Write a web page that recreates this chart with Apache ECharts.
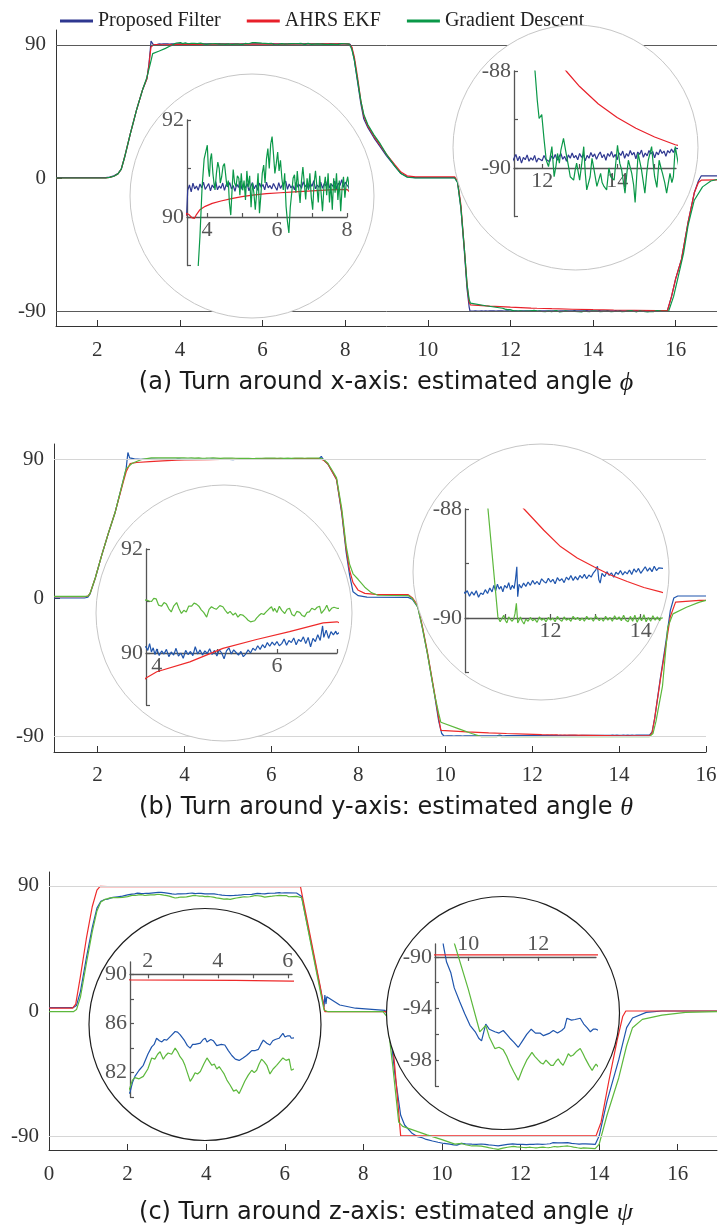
<!DOCTYPE html>
<html>
<head>
<meta charset="utf-8">
<script src="https://cdn.jsdelivr.net/npm/echarts@6.0.0/dist/echarts.min.js"></script>
<style>
html, body { margin: 0; padding: 0; background: #fff; }
#chart { width: 718px; height: 1227px; }
</style>
</head>
<body>
<div id="chart"></div>
<script>
// ---------- series names ----------
const seriesNames = ['Proposed Filter', 'AHRS EKF', 'Gradient Descent'];

// ---------- (a) rotation about x: roll angle phi [deg] vs time [s] ----------
const phiProposed = [
  [1,0.3],[2.2,0.3],[2.3,0.6],[2.4,1.5],[2.5,3],[2.58,6],[2.66,14],[2.8,30],[2.95,46],[3.1,60],[3.2,67],[3.25,77],[3.28,86],[3.3,92.5],[3.36,90.0],[3.42,90.05],[3.45,90.55],
  [3.5,90.66],[3.55,90.52],[3.6,90.7],[3.65,90.58],[3.7,90.64],[3.75,90.55],[3.8,90.68],[3.85,90.6],[3.9,90.72],[3.95,90.57],
  [4,90.63],[4.05,90.69],[4.1,90.54],[4.15,90.66],[4.2,90.6],[4.25,90.73],[4.3,90.56],[4.35,90.64],[4.4,90.59],[4.45,90.7],
  [4.5,90.55],[4.55,90.67],[4.6,90.62],[4.65,90.71],[4.7,90.58],[4.75,90.65],[4.8,90.53],[4.85,90.68],[4.9,90.61],[4.95,90.74],
  [5,90.57],[5.05,90.66],[5.1,90.6],[5.15,90.69],[5.2,90.54],[5.25,90.63],[5.3,90.71],[5.35,90.58],[5.4,90.66],[5.45,90.55],
  [5.5,90.7],[5.55,90.61],[5.6,90.67],[5.65,90.56],[5.7,90.72],[5.75,90.6],[5.8,90.65],[5.85,90.58],[5.9,90.69],[5.95,90.62],
  [6,90.55],[6.05,90.71],[6.1,90.59],[6.15,90.66],[6.2,90.62],[6.25,90.74],[6.3,90.57],[6.35,90.68],[6.4,90.6],[6.45,90.65],
  [6.5,90.56],[6.55,90.72],[6.6,90.61],[6.65,90.67],[6.7,90.59],[6.75,90.73],[6.8,90.62],[6.85,90.68],[6.9,90.57],[6.95,90.7],
  [7,90.63],[7.05,90.75],[7.1,90.58],[7.15,90.66],[7.2,90.61],[7.25,90.72],[7.3,90.59],[7.35,90.69],[7.4,90.64],[7.45,90.76],
  [7.5,90.6],[7.55,90.68],[7.6,90.63],[7.65,90.74],[7.7,90.58],[7.75,90.7],[7.8,90.65],[7.85,90.77],[7.9,90.61],[7.95,90.72],[8,90.66],
  [8.06,90.6],[8.12,90.3],[8.16,88],[8.22,80],[8.3,65],[8.38,50],[8.45,40],[8.55,34],[8.7,27],[8.85,21],[9,15],[9.2,8],[9.35,3],[9.5,0.8],[9.7,0.3],
  [10.65,0.3],[10.72,-3],[10.8,-20],[10.88,-48],[10.95,-75],[11,-87],[11.02,-89.85],
  [11.1,-89.95],[11.15,-89.7],[11.2,-89.88],[11.25,-89.92],[11.3,-89.72],[11.35,-89.85],[11.4,-89.76],[11.45,-89.9],[11.5,-89.78],
  [11.55,-89.83],[11.6,-89.73],[11.65,-89.86],[11.7,-89.79],[11.75,-89.84],[11.8,-89.74],[11.85,-89.88],[11.9,-89.8],[11.95,-89.77],
  [12,-89.85],[12.05,-89.74],[12.1,-89.82],[12.15,-89.78],[12.2,-89.87],[12.25,-89.75],[12.3,-89.81],[12.35,-89.72],[12.4,-89.84],[12.45,-89.77],
  [12.5,-89.7],[12.55,-89.82],[12.6,-89.76],[12.65,-89.86],[12.7,-89.73],[12.75,-89.8],[12.8,-89.69],[12.85,-89.79],[12.9,-89.74],[12.95,-89.83],
  [13,-89.7],[13.05,-89.78],[13.1,-89.72],[13.15,-89.85],[13.2,-89.74],[13.25,-89.8],[13.3,-89.68],[13.35,-89.77],[13.4,-89.71],[13.45,-89.82],
  [13.5,-89.73],[13.55,-89.67],[13.6,-89.79],[13.65,-89.72],[13.7,-89.84],[13.75,-89.7],[13.8,-89.76],[13.85,-89.66],[13.9,-89.78],[13.95,-89.72],
  [14,-89.83],[14.05,-89.69],[14.1,-89.74],[14.15,-89.65],[14.2,-89.8],[14.25,-89.7],[14.3,-89.76],[14.35,-89.64],[14.4,-89.73],[14.45,-89.68],
  [14.5,-89.81],[14.55,-89.67],[14.6,-89.72],[14.65,-89.63],[14.7,-89.78],[14.75,-89.69],[14.8,-89.75],[14.85,-89.64],[14.9,-89.71],[14.95,-89.66],
  [15,-89.79],[15.05,-89.67],[15.1,-89.73],[15.15,-89.62],[15.2,-89.7],[15.25,-89.65],[15.3,-89.76],[15.35,-89.64],[15.4,-89.69],[15.45,-89.61],
  [15.5,-89.68],[15.55,-89.59],[15.6,-89.62],[15.75,-89.62],
  [15.8,-89.6],[15.9,-80],[16,-68],[16.14,-55],[16.3,-30],[16.45,-10],[16.55,-2],[16.62,1.5],[17,1.5]
];
const phiEkf = [
  [1,0],[2.2,0],[2.3,0.4],[2.4,1.2],[2.5,2.8],[2.58,6],[2.66,14],[2.8,30],[2.95,46],[3.1,60],[3.2,67],[3.25,76],[3.28,84],[3.3,88.5],
  [3.36,89.95],[3.42,90.08],[3.5,90.04],[3.58,89.98],[3.64,89.97],[3.7,90.05],[3.8,90.15],[3.95,90.22],[4.15,90.28],[4.4,90.33],[4.7,90.38],[5,90.42],
  [5.3,90.45],[5.7,90.48],[6.1,90.5],[6.5,90.52],[7,90.54],[7.5,90.56],[8,90.57],[8.1,90.5],
  [8.16,88.5],[8.22,82],[8.3,68],[8.38,52],[8.45,42],[8.55,35],[8.7,28],[8.85,22],[9,16],[9.2,9],[9.35,4],[9.5,1.5],[9.7,0.8],
  [10.65,0.8],[10.72,-2],[10.8,-18],[10.88,-46],[10.95,-72],[11,-84],[11.03,-85.7],[11.5,-86.54],[12,-87.28],[12.5,-87.86],[12.64,-88],
  [13,-88.32],[13.5,-88.68],[14,-88.96],[14.5,-89.18],[15,-89.36],[15.55,-89.52],[15.8,-89.57],
  [15.9,-80],[16,-68],[16.14,-55],[16.3,-30],[16.45,-10],[16.55,-3],[16.62,-1.5],[17,-1.2]
];
const phiGradient = [
  [1,0],[2.2,0],[2.3,0.4],[2.4,1.2],[2.5,2.8],[2.58,6],[2.66,14],[2.8,30],[2.95,46],[3.1,60],[3.2,68],[3.28,77],[3.34,84],[3.5,85.8],[3.65,87.6],
  [3.75,88.98],[3.8,89.6],[3.86,90.6],[3.92,91.2],[4.01,91.48],[4.04,91],[4.07,90.83],[4.1,91.2],[4.13,91.31],[4.17,90.9],[4.2,90.7],
  [4.23,90.56],[4.27,90.9],[4.31,91.13],[4.35,91],[4.38,90.7],[4.42,90.83],[4.46,91.05],[4.5,91.1],[4.53,90.9],[4.57,90.63],[4.61,90.75],
  [4.64,90.3],[4.68,90.04],[4.72,90.6],[4.75,90.98],[4.79,90.7],[4.83,90.63],[4.87,90.85],[4.91,90.8],[4.94,90.45],[4.98,90.9],[5.02,90.55],
  [5.06,90.75],[5.1,90.35],[5.14,90.95],[5.18,90.62],[5.22,90.85],[5.26,90.2],[5.3,90.7],[5.34,90.5],[5.38,90.15],[5.42,90.5],[5.46,90.9],
  [5.5,90.08],[5.54,90.45],[5.58,90.9],[5.62,91.07],[5.66,90.7],[5.7,91.2],[5.74,91.41],[5.78,91],[5.82,91.5],[5.86,91.66],[5.9,91.3],
  [5.94,90.9],[5.98,91.1],[6.02,91.34],[6.06,90.95],[6.1,91.17],[6.14,90.8],[6.18,90.56],[6.22,90.9],[6.26,90.22],[6.3,89.9],[6.34,89.67],
  [6.38,90.2],[6.42,90.49],[6.46,90.8],[6.5,90.87],[6.54,90.5],[6.58,90.95],[6.62,90.6],[6.66,90.29],[6.7,90.75],[6.74,91.03],[6.78,90.7],
  [6.82,90.36],[6.86,90.8],[6.9,90.56],[6.94,90.9],[6.98,90.4],[7.02,90.15],[7.06,90.7],[7.1,90.95],[7.14,90.63],[7.18,90.3],[7.22,90.85],
  [7.26,90.5],[7.3,90.12],[7.34,90.6],[7.38,90.83],[7.42,90.45],[7.46,90.9],[7.5,90.3],[7.54,90.7],[7.58,90.15],[7.62,90.8],[7.66,90.5],
  [7.7,90.9],[7.74,90.35],[7.78,90.75],[7.82,90.12],[7.86,90.6],[7.9,90.83],[7.94,90.4],[7.98,90.7],[8.02,90.83],
  [8.1,90.4],[8.16,87],[8.22,80],[8.3,66],[8.38,52],[8.45,43],[8.55,36],[8.7,29],[8.85,23],[9,16],[9.2,8],[9.35,3],[9.5,0.5],[9.7,0],
  [10.65,0],[10.72,-3],[10.8,-20],[10.88,-46],[10.95,-72],[11,-82],[11.03,-84.5],[11.4,-86.3],[11.81,-88],[11.87,-88.6],[11.92,-88.98],
  [11.99,-88.9],[12.05,-89.4],[12.11,-89.84],[12.17,-89.97],[12.22,-89.75],[12.26,-89.56],[12.32,-90.18],[12.37,-89.95],[12.41,-89.7],
  [12.46,-89.9],[12.5,-89.63],[12.57,-89.39],[12.64,-89.7],[12.7,-89.95],[12.75,-90.18],[12.84,-90.25],[12.88,-90.05],[12.92,-89.9],
  [13,-90.25],[13.05,-89.95],[13.11,-89.56],[13.15,-90.1],[13.19,-90.45],[13.28,-90.18],[13.33,-89.8],[13.37,-89.97],[13.42,-90.2],
  [13.46,-90.38],[13.56,-90.11],[13.6,-90.3],[13.65,-90.38],[13.72,-90.45],[13.78,-90.0],[13.83,-90.18],[13.92,-90.25],[13.97,-89.85],
  [14.01,-89.53],[14.07,-89.9],[14.12,-90.04],[14.17,-90.3],[14.21,-90.52],[14.26,-90.1],[14.3,-89.84],[14.39,-90.11],[14.44,-90.35],
  [14.48,-90.71],[14.52,-90.2],[14.56,-89.7],[14.65,-90.04],[14.7,-90.3],[14.74,-90.52],[14.79,-90.1],[14.83,-89.84],[14.92,-89.56],
  [14.96,-89.9],[15,-90.18],[15.06,-90.4],[15.12,-89.84],[15.17,-90],[15.21,-90.11],[15.27,-90.3],[15.32,-90.52],[15.41,-90.11],
  [15.46,-90.3],[15.5,-90.18],[15.55,-89.56],[15.65,-90],[15.75,-90.1],
  [15.83,-89.9],[15.95,-80],[16.05,-68],[16.19,-51],[16.3,-32],[16.45,-15],[16.65,-6],[16.85,-2],[17,-1]
];

// ---------- (b) rotation about y: pitch angle theta [deg] vs time [s] ----------
const thetaProposed = [
  [1,0],[1.7,0],[1.78,0.5],[1.83,2.7],[1.95,13],[2.1,28],[2.25,42],[2.4,55],[2.59,76],[2.66,84],[2.7,94.5],[2.74,91],[2.85,90.3],
  [3,90.1],[3.2,90.15],[3.4,90.05],[3.6,90.1],
  [3.82,90.12],[3.85,90.05],[3.88,90.18],[3.91,90.02],[3.94,90.1],[3.97,89.97],[4,90.08],[4.04,89.95],[4.08,90.04],[4.12,89.98],
  [4.16,90.07],[4.2,89.93],[4.24,90.02],[4.28,89.96],[4.32,90.09],[4.36,89.94],[4.4,90],[4.44,89.9],[4.48,90.05],[4.52,89.97],
  [4.56,90.03],[4.6,89.95],[4.64,90.12],[4.68,89.98],[4.72,90.06],[4.76,89.96],[4.8,90.04],[4.84,89.99],[4.88,90.08],[4.92,89.97],
  [4.96,90.05],[5,89.94],[5.04,90.06],[5.08,90],[5.12,89.89],[5.16,90.04],[5.2,90.1],[5.24,89.98],[5.28,90.06],[5.32,90.01],
  [5.36,89.96],[5.4,90.03],[5.44,89.93],[5.48,89.98],[5.52,90.06],[5.56,90],[5.6,90.09],[5.64,90.05],[5.68,90.14],[5.72,90.07],
  [5.76,90.16],[5.8,90.1],[5.84,90.2],[5.88,90.13],[5.92,90.21],[5.96,90.15],[6,90.22],[6.04,90.14],[6.08,90.18],[6.12,90.27],
  [6.16,90.15],[6.2,90.24],[6.24,90.2],[6.28,90.29],[6.32,90.16],[6.36,90.26],[6.4,90.22],[6.44,90.31],[6.48,90.18],[6.52,90.3],
  [6.56,90.12],[6.6,90.28],[6.64,90.22],[6.68,90.35],[6.72,90.24],[6.76,90.52],[6.78,90.3],[6.82,90.44],[6.86,90.28],[6.9,90.41],
  [6.94,90.35],[6.98,90.42],[7,90.36],
  [7.1,90.45],[7.15,92],[7.19,90],[7.3,87],[7.42,81],[7.5,77],[7.62,55],[7.72,30],[7.8,15],[7.88,4],[8,1.5],[8.2,0.6],[9.15,0.4],
  [9.25,-1],[9.37,-6],[9.48,-20],[9.59,-36],[9.75,-62],[9.85,-80],[9.92,-88],[9.97,-89.6],[10.05,-89.5],
  [10.1,-89.55],[10.15,-89.5],[10.2,-89.6],[10.25,-89.52],[10.3,-89.58],[10.35,-89.5],[10.4,-89.62],[10.45,-89.54],[10.5,-89.57],
  [10.55,-89.48],[10.6,-89.55],[10.65,-89.45],[10.7,-89.52],[10.74,-89.4],[10.78,-89.5],[10.82,-89.38],[10.86,-89.47],[10.9,-89.42],
  [10.94,-89.52],[10.98,-89.4],[11.03,-89.45],[11.07,-89.35],[11.11,-89.48],[11.15,-89.4],[11.19,-89.46],[11.22,-89.3],[11.25,-89.06],
  [11.27,-89.61],[11.3,-89.38],[11.35,-89.45],[11.4,-89.36],[11.45,-89.42],[11.5,-89.34],[11.55,-89.4],[11.6,-89.31],[11.65,-89.38],
  [11.7,-89.33],[11.75,-89.39],[11.8,-89.28],[11.85,-89.33],[11.9,-89.36],[11.95,-89.27],[12,-89.34],[12.05,-89.29],[12.1,-89.37],
  [12.15,-89.26],[12.2,-89.32],[12.25,-89.28],[12.3,-89.35],[12.35,-89.25],[12.4,-89.3],[12.45,-89.22],[12.5,-89.31],[12.55,-89.24],
  [12.6,-89.3],[12.65,-89.22],[12.7,-89.27],[12.75,-89.2],[12.8,-89.28],[12.85,-89.21],[12.9,-89.25],[12.95,-89.17],[13,-89.12],
  [13.04,-89.05],[13.07,-89.3],[13.1,-89.36],[13.14,-89.18],[13.2,-89.24],[13.25,-89.15],[13.3,-89.22],[13.35,-89.17],[13.4,-89.25],
  [13.45,-89.16],[13.5,-89.2],[13.55,-89.13],[13.6,-89.21],[13.65,-89.15],[13.7,-89.19],[13.75,-89.12],[13.8,-89.2],[13.85,-89.1],
  [13.9,-89.16],[13.95,-89.09],[14,-89.18],[14.05,-89.12],[14.1,-89.06],[14.15,-89.14],[14.2,-89.08],[14.25,-89.15],[14.3,-89.05],
  [14.35,-89.13],[14.4,-89.08],[14.44,-89.11],[14.6,-89.1],[14.7,-89.1],
  [14.76,-87],[14.82,-78],[14.95,-52],[15.07,-30],[15.18,-8],[15.26,0],[15.35,1.3],[16,1.3]
];
const thetaEkf = [
  [1,0.8],[1.7,0.8],[1.78,1.2],[1.83,3],[1.95,13],[2.1,28],[2.25,42],[2.4,55],[2.59,75],[2.66,82],[2.75,87.2],[2.9,88],[3.2,88.6],
  [3.5,89.1],[3.82,89.52],[4,89.64],[4.55,89.83],[5.1,90.09],[5.66,90.26],[6.21,90.41],[6.77,90.58],[7,90.6],[7.1,90.55],
  [7.2,89.5],[7.3,87],[7.42,81],[7.5,77],[7.62,56],[7.72,32],[7.8,18],[7.88,10],[8,5],[8.15,3],[8.4,2.3],[9.15,2.2],
  [9.25,0],[9.37,-5],[9.48,-19],[9.59,-35],[9.75,-61],[9.85,-78],[9.9,-85.98],[10.5,-86.96],[11,-87.59],[11.41,-88],
  [11.85,-88.39],[12.22,-88.69],[12.59,-88.9],[12.96,-89.06],[13.33,-89.21],[13.7,-89.33],[14.07,-89.44],[14.44,-89.52],[14.7,-89.58],
  [14.76,-87.5],[14.82,-78],[14.95,-53],[15.07,-32],[15.18,-12],[15.3,-2.7],[15.85,-1.6],[16,-1.5]
];
const thetaGradient = [
  [1,1],[1.7,1],[1.78,1.2],[1.83,3],[1.95,13],[2.1,28],[2.25,42],[2.4,55],[2.59,76],[2.66,84],[2.8,87.5],[3,89.8],[3.24,91],[3.5,91],
  [3.83,91.02],[3.87,91],[3.91,90.99],[3.95,91.05],[3.99,91.04],[4.03,90.92],[4.08,90.9],[4.12,90.97],[4.16,90.94],[4.2,90.85],
  [4.24,90.79],[4.28,90.9],[4.33,90.97],[4.37,90.85],[4.41,90.76],[4.45,90.82],[4.49,90.79],[4.53,90.9],[4.58,90.9],[4.62,90.96],
  [4.66,90.94],[4.7,90.9],[4.74,90.83],[4.78,90.78],[4.83,90.69],[4.87,90.84],[4.91,90.89],[4.95,90.86],[4.99,90.84],[5.05,90.91],
  [5.1,90.89],[5.14,90.82],[5.18,90.76],[5.22,90.8],[5.27,90.73],[5.31,90.77],[5.35,90.69],[5.39,90.74],[5.43,90.73],[5.48,90.68],
  [5.52,90.63],[5.56,90.6],[5.59,90.58],[5.63,90.62],[5.66,90.67],[5.7,90.72],[5.74,90.76],[5.78,90.74],[5.82,90.79],[5.87,90.85],
  [5.91,90.89],[5.94,90.8],[5.96,90.86],[6,90.78],[6.04,90.9],[6.08,90.82],[6.13,90.76],[6.17,90.84],[6.21,90.86],[6.25,90.74],
  [6.29,90.71],[6.33,90.8],[6.38,90.78],[6.42,90.72],[6.46,90.7],[6.5,90.78],[6.54,90.79],[6.58,90.86],[6.63,90.83],[6.67,90.88],
  [6.71,90.9],[6.74,90.76],[6.77,90.73],[6.8,90.85],[6.83,90.92],[6.87,90.8],[6.91,90.86],[6.95,90.88],[7,90.86],
  [7.1,90.85],[7.2,90],[7.3,87.5],[7.42,82],[7.5,78],[7.62,58],[7.72,34],[7.8,22],[7.88,15.7],[8,12],[8.15,7],[8.3,3.5],[8.45,1.8],[9.15,1.6],
  [9.25,-0.5],[9.37,-6],[9.48,-20],[9.59,-36],[9.75,-62],[9.85,-75],[9.9,-80.7],[10.3,-84.8],[10.61,-88],
  [10.83,-89.98],[10.88,-90.07],[10.92,-90.1],[10.96,-89.95],[11,-90.05],[11.03,-90.09],[11.07,-89.98],[11.1,-89.95],[11.14,-90.06],
  [11.18,-90.02],[11.21,-89.92],[11.24,-89.73],[11.27,-90.09],[11.3,-90.04],[11.33,-89.98],[11.37,-90.06],[11.41,-90.11],[11.45,-90.02],
  [11.5,-90.06],[11.55,-89.99],[11.6,-90.05],[11.65,-90.02],[11.7,-90.08],[11.75,-89.98],[11.8,-90.04],[11.85,-90.01],[11.9,-90.07],
  [11.95,-89.99],[12,-90.04],[12.05,-90],[12.1,-90.07],[12.15,-89.97],[12.2,-90.03],[12.25,-90.06],[12.3,-89.98],[12.35,-90.04],
  [12.4,-90.01],[12.45,-90.06],[12.5,-89.97],[12.55,-90.03],[12.6,-89.99],[12.65,-90.05],[12.7,-90],[12.75,-90.06],[12.8,-89.97],
  [12.85,-90.03],[12.9,-90],[12.95,-90.06],[13,-89.96],[13.04,-89.93],[13.08,-90.05],[13.12,-90],[13.17,-90.06],[13.22,-89.97],
  [13.27,-90.04],[13.32,-89.99],[13.37,-90.06],[13.42,-89.96],[13.47,-90.03],[13.52,-89.98],[13.57,-90.05],[13.62,-89.95],[13.67,-90.04],
  [13.72,-90.07],[13.77,-89.97],[13.82,-90.06],[13.87,-89.95],[13.92,-90.08],[13.97,-89.98],[14.02,-90.05],[14.07,-89.94],[14.12,-90.07],
  [14.17,-89.99],[14.22,-90.06],[14.27,-89.96],[14.32,-90.04],[14.37,-89.98],[14.42,-90.05],[14.44,-90],[14.7,-90],
  [14.78,-88],[14.85,-80],[15,-57],[15.12,-19],[15.24,-10.3],[15.55,-6],[15.85,-2.7],[16,-1.5]
];

// ---------- (c) rotation about z: yaw angle psi [deg] vs time [s] ----------
const psiProposed = [
  [0,2.5],[0.62,2.5],[0.7,4],[0.8,14],[0.95,38],[1.1,60],[1.22,74],[1.32,79],[1.42,80.2],[1.49,80.4],[1.56,81.2],[1.63,81.7],[1.75,82.2],
  [1.87,82.6],[2,83.5],[2.11,84.1],[2.18,84.3],[2.25,84.8],[2.33,84.6],[2.4,84.5],[2.47,84.7],[2.54,84.65],[2.66,85.0],[2.78,85.35],
  [2.85,85.3],[2.92,85.1],[3.05,84.6],[3.13,84.2],[3.21,84.0],[3.28,84.3],[3.35,84.3],[3.5,84.4],[3.58,84.7],[3.64,84.8],[3.69,84.5],
  [3.73,84.5],[3.8,84.7],[3.87,84.6],[3.97,84.2],[4.1,84.3],[4.2,84.25],[4.3,83.8],[4.4,83.4],[4.5,83.1],[4.61,83],[4.72,83.2],
  [4.82,83.4],[4.9,83.6],[4.97,83.8],[5.07,83.8],[5.16,83.9],[5.23,84.3],[5.3,84.65],[5.4,84.4],[5.49,84.25],[5.57,84.6],[5.64,84.7],
  [5.75,84.8],[5.86,85.2],[5.92,84.9],[6,85.0],[6.06,85],[6.1,84.8],[6.3,84.9],[6.43,82.3],
  [7,3],[7.02,11.5],[7.05,5],[7.07,10.3],[7.4,4.3],[7.8,2],[8.3,1],[8.55,0.5],[8.65,-5],[8.8,-45],[8.95,-75],[9.05,-82],[9.24,-88],
  [9.29,-89.1],[9.38,-90.4],[9.5,-91.2],[9.6,-92.4],[9.76,-93.5],[9.9,-94.4],[10.05,-95.3],[10.2,-95.8],[10.3,-96.3],[10.38,-96.5],
  [10.5,-95.2],[10.6,-95.6],[10.76,-95.8],[10.88,-95.9],[11,-95.7],[11.1,-96.0],[11.19,-96.3],[11.3,-96.6],[11.43,-97.0],[11.55,-96.5],
  [11.67,-96.0],[11.8,-95.6],[11.92,-95.9],[12.05,-95.9],[12.15,-96.1],[12.24,-96.0],[12.33,-95.9],[12.43,-95.7],[12.55,-95.9],
  [12.67,-95.7],[12.75,-95.5],[12.82,-94.75],[12.95,-94.9],[13.05,-94.85],[13.2,-94.75],[13.3,-95.2],[13.4,-95.5],[13.49,-95.8],
  [13.57,-95.6],[13.65,-95.6],[13.8,-95.8],[13.9,-96],
  [14,-90],[14.2,-65],[14.5,-35],[14.7,-12],[14.85,-5],[15.2,-1],[15.6,0],[17,0]
];
const psiEkf = [
  [0,2],[0.6,2],[0.68,5],[0.8,25],[0.95,52],[1.1,75],[1.22,87],[1.3,89.6],[1.49,89.55],[3,89.52],[4.5,89.5],[6.1,89.45],[6.4,89.4],
  [6.43,88],[6.9,18],[7.02,-0.5],[8.6,-0.5],[8.68,-3],[8.8,-40],[8.95,-89.85],[13.92,-89.85],
  [14.05,-80],[14.25,-50],[14.46,-21],[14.6,-4],[14.68,0],[17,0]
];
const psiGradient = [
  [0,-0.5],[0.62,-0.5],[0.7,1],[0.8,10],[0.95,34],[1.1,57],[1.22,72],[1.32,78.5],[1.42,80.3],[1.49,80.8],[1.56,81.4],[1.63,81.6],
  [1.75,81.5],[1.87,81.7],[2,82.3],[2.11,83.2],[2.2,83.1],[2.28,83.5],[2.35,83.7],[2.44,83.1],[2.51,83.4],[2.58,83.6],[2.68,83.5],
  [2.78,84],[2.85,83.7],[2.92,83.3],[3,83.0],[3.06,82.6],[3.14,81.9],[3.21,81.3],[3.28,81.6],[3.35,82],[3.42,81.9],[3.5,82.1],
  [3.6,82.7],[3.69,83.2],[3.76,82.9],[3.83,82.6],[3.9,82.7],[3.97,82.3],[4.04,82.5],[4.11,82.2],[4.18,81.9],[4.26,81.4],[4.35,81.0],
  [4.45,80.5],[4.53,80.6],[4.61,80.3],[4.69,80.8],[4.77,81.3],[4.87,81.8],[4.97,82.2],[5.04,82.0],[5.11,82.2],[5.18,82.7],[5.25,83.1],
  [5.32,82.9],[5.4,82.6],[5.49,81.9],[5.58,82.3],[5.68,82.6],[5.77,82.9],[5.86,83.2],[5.95,83],[6.04,83.1],[6.1,82.2],[6.3,82.5],[6.43,81.5],
  [7,0.7],[7.1,-0.5],[8.5,-0.5],[8.6,-4],[8.75,-40],[8.9,-80],[9,-83],[9.62,-89.1],[10,-92.5],[10.33,-95.8],[10.5,-95.3],[10.6,-96.2],
  [10.76,-97.1],[10.88,-97.0],[11,-97.2],[11.1,-97.7],[11.19,-98.3],[11.3,-98.9],[11.43,-99.55],[11.55,-98.7],[11.67,-98],[11.82,-97.4],
  [11.9,-97.7],[12,-98],[12.07,-98.2],[12.14,-98.3],[12.22,-98.0],[12.29,-98.2],[12.36,-98.4],[12.43,-98.4],[12.5,-98.1],[12.57,-97.9],
  [12.64,-98.2],[12.71,-98.4],[12.78,-98.0],[12.86,-97.5],[12.93,-97.7],[13,-97.6],[13.1,-97.3],[13.2,-97.1],[13.28,-97.5],[13.35,-97.9],
  [13.45,-98.4],[13.54,-98.8],[13.6,-98.5],[13.65,-98.3],[13.8,-98.8],[13.9,-99],
  [14,-96],[14.2,-75],[14.5,-48],[14.7,-25],[14.85,-12],[15.1,-6],[15.6,-3],[16.2,-1],[17,-0.5]
];

// ---------- axis ticks ----------
const mainYTicks = [-90, 0, 90];
const xTicksAB = [2, 4, 6, 8, 10, 12, 14, 16];
const xTicksC = [0, 2, 4, 6, 8, 10, 12, 14, 16];
const captions = [
  ['(a) Turn around x-axis: estimated angle ', '\u03D5'],
  ['(b) Turn around y-axis: estimated angle ', '\u03B8'],
  ['(c) Turn around z-axis: estimated angle ', '\u03C8']
];

// ---------- styling / layout ----------
const SERIF = '"Liberation Serif", "DejaVu Serif", serif';
const SANS = '"DejaVu Sans", sans-serif';

const panels = [
  {
    series: [phiProposed, phiEkf, phiGradient],
    colors: ['#2e3790', '#e8202a', '#0a9848'],
    grid: { left: 56, top: 30, width: 661, height: 296 },
    x: [1, 17], xTicks: xTicksAB, guide: '#5a5a5a', ring: '#c6c6c6', labelMargin: 14,
    captionY: 383,
    insets: [
      { rect: { left: 187, top: 120, width: 160, height: 145.5 }, x: [3.43, 8], y: [89, 92], y0: 90, pos: 'bottom',
        xTicks: [4, 5, 6, 7, 8], xLabels: [4, 6, 8], yTicks: [89, 90, 91, 92], yLabels: [90, 92],
        ring: { cx: 252, cy: 196, r: 122 } },
      { rect: { left: 514, top: 71, width: 162, height: 145.5 }, x: [11.25, 15.57], y: [-91, -88], y0: -90, pos: 'bottom',
        xTicks: [12, 13, 14, 15], xLabels: [12, 14], yTicks: [-91, -90, -89, -88], yLabels: [-90, -88],
        ring: { cx: 575.5, cy: 147.5, r: 122.5 } }
    ]
  },
  {
    series: [thetaProposed, thetaEkf, thetaGradient],
    colors: ['#1f55ad', '#ee2a2a', '#5cb83c'],
    grid: { left: 54, top: 444, width: 652, height: 308 },
    x: [1, 16], xTicks: xTicksAB, guide: '#d6d6d6', ring: '#c6c6c6', labelMargin: 13,
    captionY: 808,
    insets: [
      { rect: { left: 146, top: 549, width: 191, height: 156 }, x: [3.82, 7], y: [89, 92], y0: 90, pos: 'bottom',
        xTicks: [4, 5, 6, 7], xLabels: [4, 6], yTicks: [89, 90, 91, 92], yLabels: [90, 92],
        ring: { cx: 224, cy: 613, r: 128 } },
      { rect: { left: 465, top: 509, width: 196, height: 163.5 }, x: [10.1, 14.45], y: [-91, -88], y0: -90, pos: 'bottom',
        xTicks: [11, 12, 13, 14], xLabels: [12, 14], yTicks: [-91, -90, -89, -88], yLabels: [-90, -88],
        ring: { cx: 541, cy: 572, r: 128 } }
    ]
  },
  {
    series: [psiProposed, psiEkf, psiGradient],
    colors: ['#1f55ad', '#ee2a2a', '#5cb83c'],
    grid: { left: 49, top: 872, width: 668, height: 278 },
    x: [0, 17], xTicks: xTicksC, guide: '#d6d6d6', ring: '#1e1e1e', labelMargin: 14,
    captionY: 1213,
    insets: [
      { rect: { left: 130, top: 962, width: 162, height: 135.3 }, x: [1.49, 6.12], y: [80, 91], y0: 90, pos: 'top',
        xTicks: [2, 3, 4, 5, 6], xLabels: [2, 4, 6], yTicks: [80, 82, 84, 86, 88, 90], yLabels: [82, 86, 90],
        ring: { cx: 205, cy: 1024.5, r: 116 } },
      { rect: { left: 435, top: 944, width: 161, height: 142 }, x: [9.05, 13.65], y: [-100, -89], y0: -90, pos: 'top',
        xTicks: [10, 11, 12, 13], xLabels: [10, 12], yTicks: [-100, -98, -96, -94, -92, -90], yLabels: [-98, -94, -90],
        ring: { cx: 503, cy: 1013, r: 116.5 } }
    ]
  }
];

const grids = [], xAxes = [], yAxes = [], series = [], graphics = [];

function lineSeries(name, data, color, gi, z) {
  return {
    name, type: 'line', data, xAxisIndex: gi, yAxisIndex: gi,
    showSymbol: false, symbol: 'none', clip: true, z,
    lineStyle: { color, width: 1.2 }, itemStyle: { color },
    emphasis: { disabled: true }, animation: false
  };
}

panels.forEach((p, pi) => {
  // main plot
  const gi = grids.length;
  grids.push(Object.assign({ outerBoundsMode: 'none', containLabel: false }, p.grid));
  xAxes.push({
    gridIndex: gi, type: 'value', min: p.x[0], max: p.x[1], position: 'bottom',
    axisLine: { show: true, onZero: false, lineStyle: { color: '#333', width: 1 } },
    axisTick: { show: true, inside: true, length: 6, customValues: p.xTicks, lineStyle: { color: '#333' } },
    axisLabel: { customValues: p.xTicks, margin: p.labelMargin, color: '#333', fontFamily: SERIF, fontSize: 21 },
    splitLine: { show: false }
  });
  yAxes.push({
    gridIndex: gi, type: 'value', min: -100, max: 100,
    axisLine: { show: true, onZero: false, lineStyle: { color: '#333', width: 1 } },
    axisTick: { show: true, inside: true, length: 6, customValues: mainYTicks, lineStyle: { color: '#333' } },
    axisLabel: { customValues: mainYTicks, margin: 10, color: '#333', fontFamily: SERIF, fontSize: 21 },
    splitLine: { show: false }
  });
  p.series.forEach((d, si) => {
    const s = lineSeries(seriesNames[si], d, p.colors[si], gi, 2);
    if (si === 0) {
      s.markLine = {
        silent: true, symbol: 'none', animation: false,
        label: { show: false },
        lineStyle: { color: p.guide, width: 1, type: 'solid' },
        emphasis: { disabled: true },
        data: [{ yAxis: 90 }, { yAxis: -90 }]
      };
    }
    series.push(s);
  });

  // magnified views
  p.insets.forEach(ins => {
    graphics.push({
      type: 'circle', z: 6, silent: true,
      shape: { cx: ins.ring.cx, cy: ins.ring.cy, r: ins.ring.r },
      style: { fill: '#fff', stroke: p.ring, lineWidth: pi === 2 ? 1.2 : 1 }
    });
    const ig = grids.length;
    grids.push(Object.assign({ outerBoundsMode: 'none', containLabel: false }, ins.rect));
    const span = ins.y[1] - ins.y[0];
    const shift = ins.pos === 'bottom'
      ? -(ins.y0 - ins.y[0]) / span * ins.rect.height
      : -(ins.y[1] - ins.y0) / span * ins.rect.height;
    xAxes.push({
      gridIndex: ig, type: 'value', min: ins.x[0], max: ins.x[1], position: ins.pos, offset: shift, z: 10,
      axisLine: { show: true, onZero: false, lineStyle: { color: '#555', width: 1.3 } },
      axisTick: { show: true, inside: true, length: 4, customValues: ins.xTicks, lineStyle: { color: '#555', width: 1.2 } },
      axisLabel: { customValues: ins.xLabels, margin: 2, color: '#555', fontFamily: SERIF, fontSize: 22 },
      splitLine: { show: false }
    });
    yAxes.push({
      gridIndex: ig, type: 'value', min: ins.y[0], max: ins.y[1], z: 10,
      axisLine: { show: true, onZero: false, lineStyle: { color: '#555', width: 1.3 } },
      axisTick: { show: true, inside: true, length: 4, customValues: ins.yTicks, lineStyle: { color: '#555', width: 1.2 } },
      axisLabel: { customValues: ins.yLabels, margin: 3, color: '#555', fontFamily: SERIF, fontSize: 22 },
      splitLine: { show: false }
    });
    p.series.forEach((d, si) => series.push(lineSeries(seriesNames[si], d, p.colors[si], ig, 12)));
  });

  // caption
  graphics.push({
    type: 'text', z: 20, silent: true,
    style: {
      x: 386, y: p.captionY,
      text: captions[pi][0] + '{g|' + captions[pi][1] + '}',
      align: 'center', verticalAlign: 'middle',
      textAlign: 'center', textVerticalAlign: 'middle',
      fontFamily: SANS, fontSize: 24, fill: '#1a1a1a',
      rich: { g: { fontFamily: SERIF, fontStyle: 'italic', fontSize: 26, fill: '#1a1a1a' } }
    }
  });
});

const chart = echarts.init(document.getElementById('chart'), null, { renderer: 'canvas' });
chart.setOption({
  animation: false,
  backgroundColor: '#fff',
  legend: {
    data: seriesNames, left: 55, top: 6, icon: 'rect', itemWidth: 33, itemHeight: 3, itemGap: 26,
    selectedMode: false,
    textStyle: { fontFamily: SERIF, fontSize: 20, color: '#222' }
  },
  grid: grids,
  xAxis: xAxes,
  yAxis: yAxes,
  series,
  graphic: { elements: graphics }
});
</script>
</body>
</html>
